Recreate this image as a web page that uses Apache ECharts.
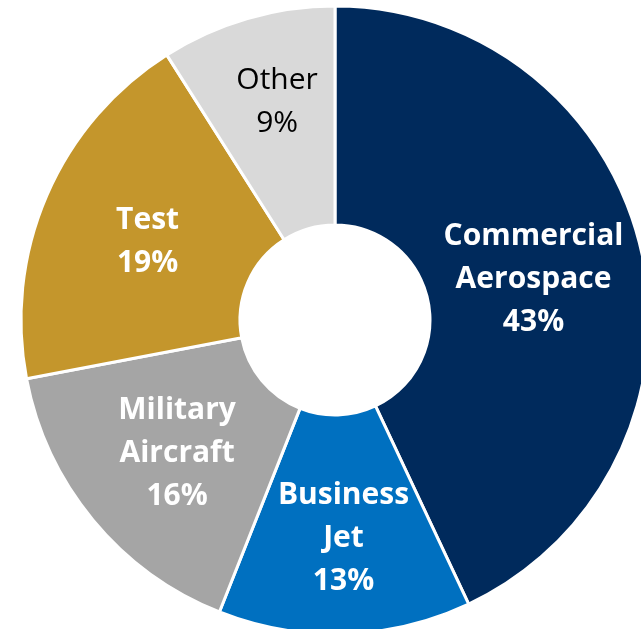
<!DOCTYPE html>
<html>
<head>
<meta charset="utf-8">
<script src="https://cdn.jsdelivr.net/npm/echarts@6/dist/echarts.min.js"></script>
<style>html,body{margin:0;padding:0;background:#fff;}#c{width:641px;height:629px;}</style>
</head>
<body>
<div id="c"></div>
<script>
const categories = ['Commercial\nAerospace', 'Business\nJet', 'Military\nAircraft', 'Test', 'Other'];
const values = [43, 13, 16, 19, 9];
const colors = ['#002A5C', '#0070C0', '#A5A5A5', '#C4962C', '#D9D9D9'];
const labelColors = ['#ffffff', '#ffffff', '#ffffff', '#ffffff', '#000000'];
const labelWeights = ['bold', 'bold', 'bold', 'bold', 'normal'];
const labelShift = [[-4, 5], [2, 11], [2, 1], [3, 4], [0, -19]];

const chart = echarts.init(document.getElementById('c'), null, {renderer: 'canvas'});
chart.setOption({
  animation: false,
  series: [{
    type: 'pie',
    center: [335, 320],
    radius: [95, 314],
    startAngle: 90,
    clockwise: true,
    itemStyle: {borderColor: '#ffffff', borderWidth: 3},
    label: {
      show: true,
      position: 'inside',
      fontFamily: 'Open Sans',
      fontSize: 30,
      lineHeight: 43,
      formatter: p => p.name + '\n' + p.value + '%'
    },
    labelLayout: p => ({dx: labelShift[p.dataIndex][0], dy: labelShift[p.dataIndex][1]}),
    emphasis: {disabled: true},
    data: categories.map((c, i) => ({
      name: c,
      value: values[i],
      itemStyle: {color: colors[i]},
      label: {color: labelColors[i], fontWeight: labelWeights[i]}
    }))
  }]
});
</script>
</body>
</html>
